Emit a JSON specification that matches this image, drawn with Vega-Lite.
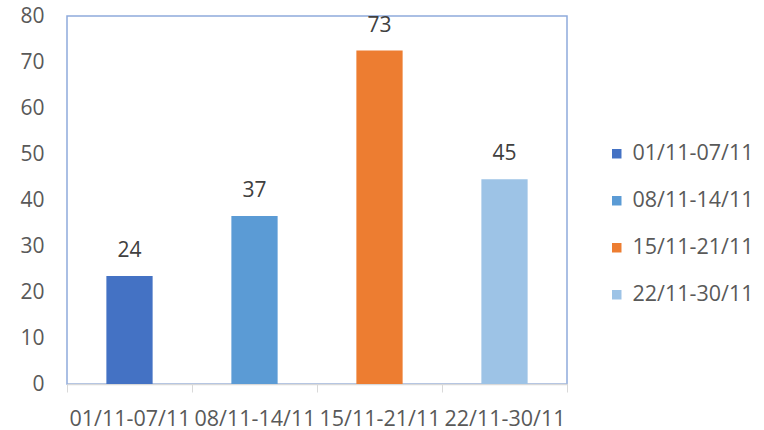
{
  "$schema": "https://vega.github.io/schema/vega-lite/v6.json",
  "width": 500,
  "height": 368,
  "autosize": "none",
  "padding": {"left": 67, "top": 16, "right": 197, "bottom": 46},
  "background": "white",
  "config": {
    "font": "Open Sans",
    "view": {"stroke": "#8FAADC", "strokeWidth": 1.5}
  },
  "data": {
    "values": [
      {"period": "01/11-07/11", "value": 23.5},
      {"period": "08/11-14/11", "value": 36.5},
      {"period": "15/11-21/11", "value": 72.5},
      {"period": "22/11-30/11", "value": 44.5}
    ]
  },
  "encoding": {
    "x": {
      "field": "period",
      "type": "nominal",
      "sort": null,
      "scale": {"paddingInner": 0, "paddingOuter": 0},
      "axis": {
        "title": null,
        "labelAngle": 0,
        "labelFontSize": 21.5,
        "labelColor": "#595959",
        "labelPadding": 16,
        "tickBand": "extent",
        "tickSize": 8,
        "tickColor": "#D9D9D9",
        "domainColor": "#D9D9D9",
        "domainWidth": 1.5,
        "labelOverlap": false
      }
    },
    "y": {
      "field": "value",
      "type": "quantitative",
      "scale": {"domain": [0, 80], "nice": false},
      "axis": {
        "title": null,
        "values": [0, 10, 20, 30, 40, 50, 60, 70, 80],
        "grid": false,
        "domain": false,
        "ticks": false,
        "labelFontSize": 21,
        "labelColor": "#595959",
        "labelPadding": 23
      }
    }
  },
  "layer": [
    {
      "mark": {"type": "bar", "width": {"band": 0.37}},
      "encoding": {
        "color": {
          "field": "period",
          "type": "nominal",
          "sort": null,
          "scale": {
            "domain": ["01/11-07/11", "08/11-14/11", "15/11-21/11", "22/11-30/11"],
            "range": ["#4472C4", "#5B9BD5", "#ED7D31", "#9DC3E6"]
          },
          "legend": {
            "title": null,
            "orient": "none",
            "legendX": 539,
            "legendY": 127,
            "symbolType": "square",
            "symbolSize": 90,
            "symbolStrokeWidth": 0,
            "labelFontSize": 21.5,
            "labelColor": "#595959",
            "labelOffset": 5,
            "rowPadding": 24
          }
        }
      }
    },
    {
      "mark": {"type": "text", "baseline": "alphabetic", "dy": -19, "fontSize": 21, "color": "#404040"},
      "encoding": {
        "text": {"field": "value", "type": "quantitative", "format": ".0f"}
      }
    }
  ]
}
